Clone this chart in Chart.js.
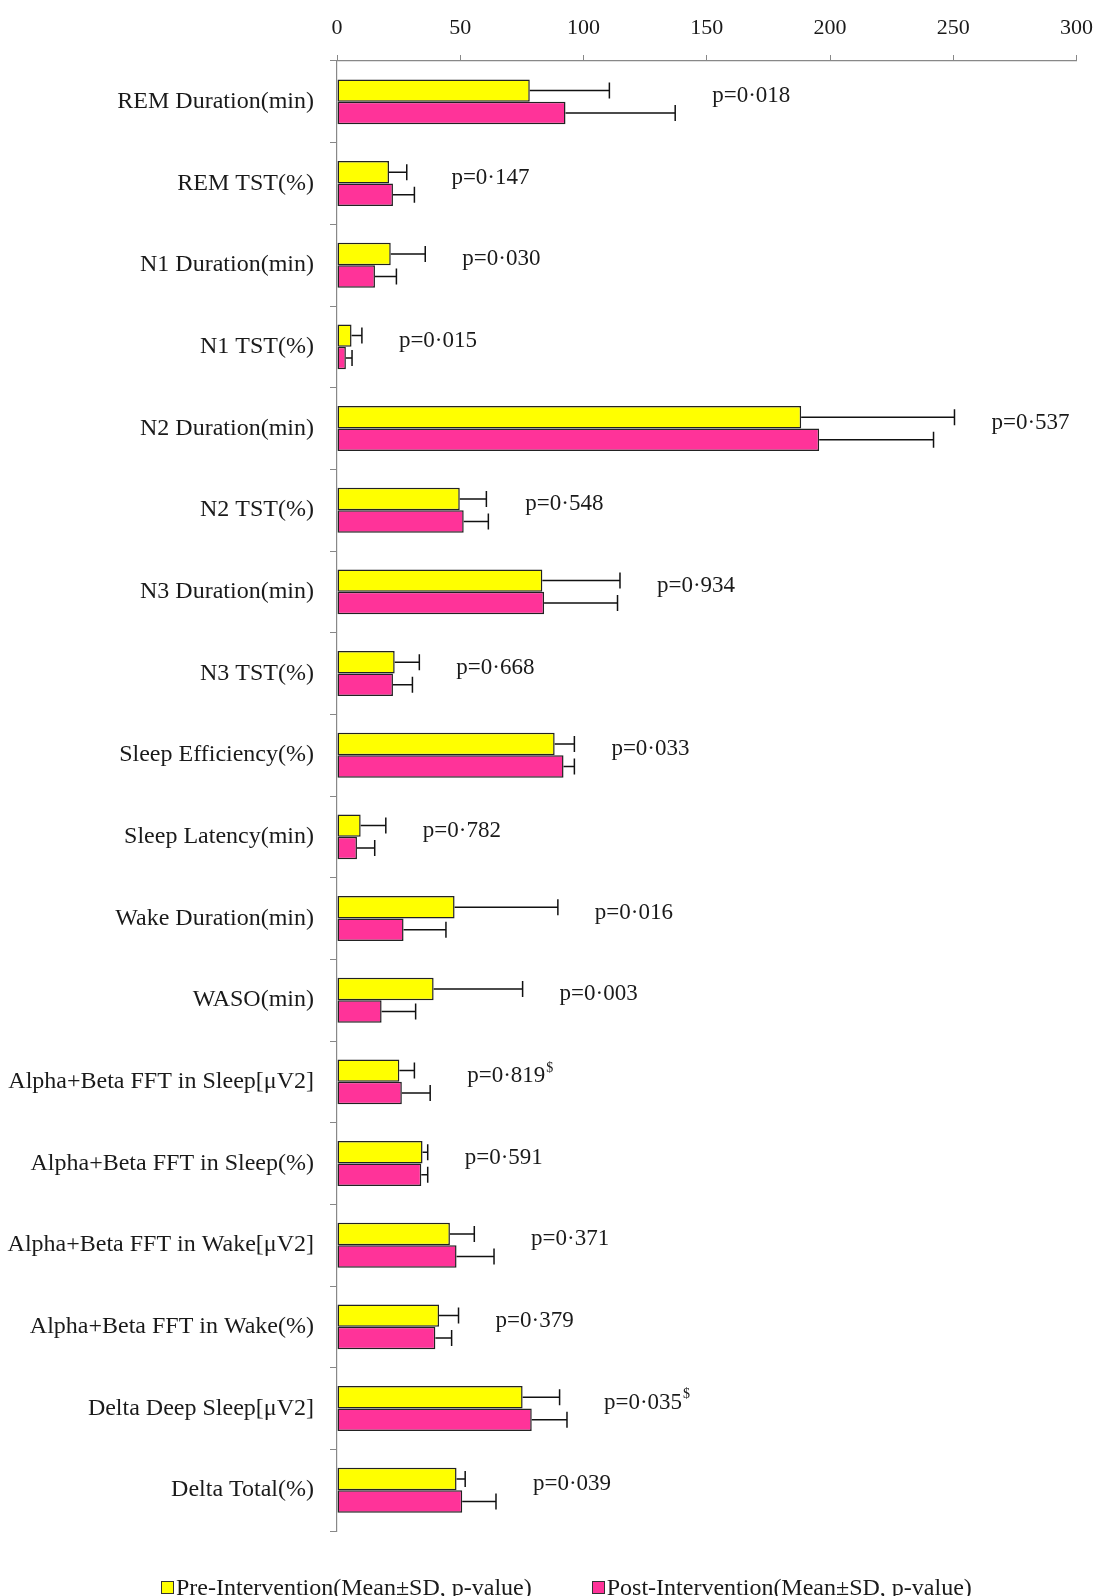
<!DOCTYPE html>
<html>
<head>
<meta charset="utf-8">
<script src="https://cdn.jsdelivr.net/npm/chart.js@4"></script>
<style>
  html, body { margin: 0; padding: 0; background: #fff; overflow: hidden; }
  #wrap { position: relative; width: 1107px; height: 1596px; overflow: hidden; }
  #legend { position: absolute; left: 161px; top: 1575px; display: flex; align-items: center; line-height: 24px;
    font-family: "Liberation Serif", "Times New Roman", serif; font-size: 24px; color: #1a1a1a; white-space: nowrap; }
  .item { display: flex; align-items: center; }
  .box { width: 11px; height: 11px; border: 1px solid #333; margin-right: 2px; }
</style>
</head>
<body>
<div id="wrap">
  <canvas id="c"></canvas>
  <div id="legend">
    <span class="item"><span class="box" style="background:#FFFF00"></span>Pre-Intervention(Mean±SD, p-value)</span>
    <span class="item" style="margin-left:60px"><span class="box" style="background:#FF3399"></span>Post-Intervention(Mean±SD, p-value)</span>
  </div>
</div>
<script>
const categories = [
  "REM Duration(min)", "REM TST(%)", "N1 Duration(min)", "N1 TST(%)",
  "N2 Duration(min)", "N2 TST(%)", "N3 Duration(min)", "N3 TST(%)",
  "Sleep Efficiency(%)", "Sleep Latency(min)", "Wake Duration(min)", "WASO(min)",
  "Alpha+Beta FFT in Sleep[μV2]", "Alpha+Beta FFT in Sleep(%)",
  "Alpha+Beta FFT in Wake[μV2]", "Alpha+Beta FFT in Wake(%)",
  "Delta Deep Sleep[μV2]", "Delta Total(%)"
];
const preMean  = [78.2, 21.1, 21.8, 5.9, 188.3, 49.8, 83.3, 23.4, 88.3, 9.6, 47.7, 39.2, 25.3, 34.7, 45.8, 41.4, 75.3, 48.5];
const preSD    = [32.3, 7.2, 14.0, 4.2, 62.2, 10.8, 31.5, 10.0, 8.0, 10.2, 41.9, 36.1, 6.1, 2.1, 9.9, 7.9, 15.0, 3.5];
const postMean = [92.7, 22.7, 15.4, 3.6, 195.6, 51.4, 84.0, 22.7, 91.9, 8.1, 27.0, 18.1, 26.3, 34.2, 48.5, 39.9, 79.0, 50.8];
const postSD   = [44.5, 8.7, 8.7, 2.5, 46.4, 10.0, 29.8, 7.9, 4.4, 7.2, 17.2, 13.8, 11.5, 2.6, 15.2, 6.6, 14.3, 13.7];
const pValues  = ["0·018", "0·147", "0·030", "0·015", "0·537", "0·548", "0·934", "0·668", "0·033",
                  "0·782", "0·016", "0·003", "0·819", "0·591", "0·371", "0·379", "0·035", "0·039"];
const pMarks   = ["", "", "", "", "", "", "", "", "", "", "", "", "$", "", "", "", "$", ""];
const xTickMin = 0, xTickMax = 300, xTickStep = 50;
const seriesNames = ["Pre-Intervention(Mean±SD, p-value)", "Post-Intervention(Mean±SD, p-value)"];

const FONT = '"Liberation Serif", "Times New Roman", serif';
const TEXT = '#1a1a1a';

const errorBars = {
  id: 'errorBars',
  afterDatasetsDraw(chart) {
    const ctx = chart.ctx;
    const xs = chart.scales.x, ys = chart.scales.y;
    const sds = [preSD, postSD];
    ctx.save();
    ctx.strokeStyle = '#111';
    ctx.lineWidth = 1.5;
    chart.data.datasets.forEach((ds, di) => {
      const meta = chart.getDatasetMeta(di);
      meta.data.forEach((bar, i) => {
        const x0 = bar.x, y = bar.y;
        const x1 = xs.getPixelForValue(ds.data[i] + sds[di][i]);
        ctx.beginPath();
        ctx.moveTo(x0, y); ctx.lineTo(x1, y);
        ctx.moveTo(x1, y - 8); ctx.lineTo(x1, y + 8);
        ctx.stroke();
      });
    });
    ctx.fillStyle = TEXT;
    ctx.textBaseline = 'middle';
    ctx.textAlign = 'left';
    categories.forEach((c, i) => {
      const end = Math.max(xs.getPixelForValue(preMean[i] + preSD[i]), xs.getPixelForValue(postMean[i] + postSD[i]));
      const x = end + 37;
      const y = ys.getPixelForValue(i) - 6;
      ctx.font = '23px ' + FONT;
      const t = 'p=' + pValues[i];
      ctx.fillText(t, x, y);
      if (pMarks[i]) {
        const w = ctx.measureText(t).width;
        ctx.font = '14px ' + FONT;
        ctx.fillText(pMarks[i], x + w + 1, y - 8);
      }
    });
    ctx.restore();
  }
};

new Chart(document.getElementById('c'), {
  type: 'bar',
  data: {
    labels: categories,
    datasets: [
      { label: seriesNames[0], data: preMean, backgroundColor: '#FFFF00', borderColor: '#222', borderWidth: 1.5, borderSkipped: false,
        categoryPercentage: 0.55, barPercentage: 1.0 },
      { label: seriesNames[1], data: postMean, backgroundColor: '#FF3399', borderColor: '#222', borderWidth: 1.5, borderSkipped: false,
        categoryPercentage: 0.55, barPercentage: 1.0 }
    ]
  },
  options: {
    indexAxis: 'y',
    responsive: true,
    maintainAspectRatio: false,
    animation: false,
    layout: { padding: { left: 0, right: 22, top: 0, bottom: 65 } },
    plugins: { legend: { display: false }, tooltip: { enabled: false } },
    scales: {
      x: {
        position: 'top',
        min: xTickMin, max: xTickMax,
        ticks: { stepSize: xTickStep, font: { family: FONT, size: 22 }, color: TEXT, padding: 14 },
        grid: { drawOnChartArea: false, tickLength: 6, color: '#888' },
        border: { color: '#888', width: 1.2 },
        afterFit(s) { s.height = 61; }
      },
      y: {
        ticks: { font: { family: FONT, size: 24 }, color: TEXT, padding: 16, autoSkip: false },
        grid: { drawOnChartArea: false, tickLength: 7, color: '#888', offset: true },
        border: { color: '#888', width: 1.2 },
        afterFit(s) { s.width = 337; }
      }
    }
  },
  plugins: [errorBars]
});
</script>
</body>
</html>
